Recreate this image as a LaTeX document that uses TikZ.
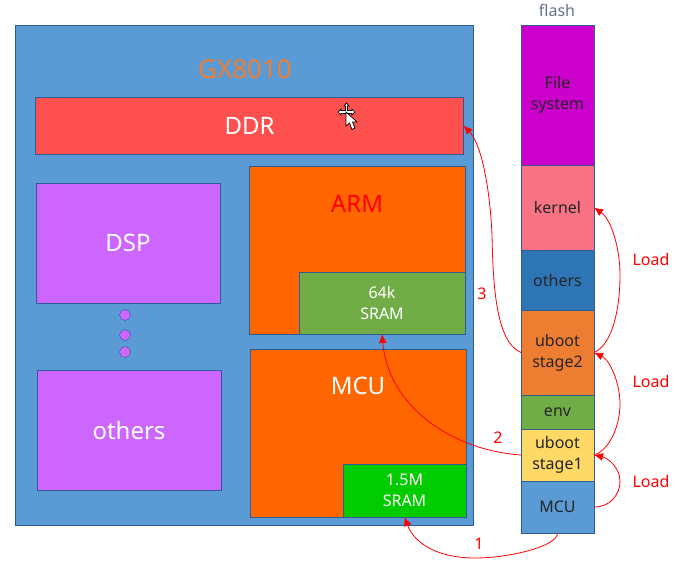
\documentclass[tikz,border=0pt]{standalone}
\usepackage{fontspec}
\setmainfont{Noto Sans}
\usetikzlibrary{positioning}
\usetikzlibrary{arrows.meta}
\definecolor{boxline}{HTML}{2F5C94}
\definecolor{chipblue}{HTML}{5B9BD5}
\definecolor{ddrred}{HTML}{FF5050}
\definecolor{dspviolet}{HTML}{CC66FF}
\definecolor{coreorange}{HTML}{FF6600}
\definecolor{sramgreen}{HTML}{70AD47}
\definecolor{mcugreen}{HTML}{00CC00}
\definecolor{fsmagenta}{HTML}{CC00CC}
\definecolor{kernelpink}{HTML}{F87484}
\definecolor{othersblue}{HTML}{2E75B6}
\definecolor{ubootorange}{HTML}{ED7D31}
\definecolor{ubootyellow}{HTML}{FFD966}
\tikzset{
  block/.style={draw=boxline, line width=1pt, inner sep=0pt, outer sep=0pt, align=center, text=white},
  flashpart/.style={block, minimum width=73pt, text=black!85, font=\fontsize{16}{21}\selectfont},
  flow/.style={draw=red, line width=.8pt, -{Latex[length=9pt,width=8pt]}},
  redlabel/.style={text=red, inner sep=0pt, font=\fontsize{16}{20}\selectfont},
  bigtext/.style={font=\fontsize{24}{28}\selectfont},
  smalltext/.style={font=\fontsize{16}{21}\selectfont},
  dotnode/.style={circle, draw=boxline, fill=dspviolet, minimum size=11pt, inner sep=0pt}
}

\begin{document}
\begin{tikzpicture}[x=1pt, y=-1pt]
  \useasboundingbox (0,0) rectangle (679,562);

  % chip
  \node [block, fill=chipblue, minimum width=458pt, minimum height=500pt] (chip) at (244, 275) {};
  \node [inner sep=0pt, text=ubootorange, font=\fontsize{26}{30}\selectfont] (chipname) at (245, 69) {GX8010};

  \node [block, fill=ddrred, minimum width=428pt, minimum height=57pt, bigtext] (ddr) at (249.5, 125.5) {DDR};
  \node [block, fill=dspviolet, minimum width=184pt, minimum height=120pt, bigtext] (dsp) at (128, 243) {DSP};
  \node [block, fill=dspviolet, minimum width=184pt, minimum height=120pt, bigtext] (others) at (129, 430) {others};

  \node [dotnode] (d1) at (125, 315) {};
  \node [dotnode] (d2) at (125, 335) {};
  \node [dotnode] (d3) at (125, 352) {};

  \node [block, fill=coreorange, minimum width=216pt, minimum height=168pt] (arm) at (357, 250) {};
  \node [inner sep=0pt, text=red, bigtext] (armname) at (357, 204) {ARM};
  \node [block, fill=sramgreen, minimum width=166pt, minimum height=62pt, smalltext] (sramarm) at (382, 303) {64k\\SRAM};

  \node [block, fill=coreorange, minimum width=216pt, minimum height=168pt] (mcu) at (358, 433) {};
  \node [inner sep=0pt, text=white, bigtext] (mcuname) at (358, 386) {MCU};
  \node [block, fill=mcugreen, minimum width=123pt, minimum height=53pt, smalltext] (srammcu) at (404.5, 490.5) {1.5M\\SRAM};

  % flash
  \node [inner sep=0pt, text=boxline!60!black!70, font=\fontsize{16}{20}\selectfont] (flashname) at (557, 10) {flash};
  \node [flashpart, fill=fsmagenta, minimum height=140pt] (fs) at (557.5, 95) {File\\system};
  \node [flashpart, fill=kernelpink, minimum height=85pt, below=0pt of fs] (kernel) {kernel};
  \node [flashpart, fill=othersblue, minimum height=60pt, below=0pt of kernel] (flashothers) {others};
  \node [flashpart, fill=ubootorange, minimum height=85pt, below=0pt of flashothers] (stage2) {uboot\\stage2};
  \node [flashpart, fill=sramgreen, minimum height=34pt, below=0pt of stage2] (env) {env};
  \node [flashpart, fill=ubootyellow, minimum height=52pt, below=0pt of env] (stage1) {uboot\\stage1};
  \node [flashpart, fill=chipblue, minimum height=52pt, below=0pt of stage1] (flashmcu) {MCU};

  % boot order
  \draw [flow] (flashmcu.south) .. controls (558, 546) and (510, 558) .. (475, 558)
    .. controls (440, 558) and (415, 545) .. (srammcu.south);
  \draw [flow] (stage1.west) .. controls (450, 450) and (388, 405) .. (sramarm.south);
  \draw [flow] (stage2.west) .. controls (495, 342) and (493, 280) .. (492, 235)
    .. controls (490, 190) and (482, 145) .. (ddr.east);
  \draw [flow] (flashmcu.east) .. controls (610, 507) and (620, 495) .. (620, 481)
    .. controls (620, 468) and (608, 458) .. (stage1.east);
  \draw [flow] (stage1.east) .. controls (610, 450) and (620, 425) .. (620, 404)
    .. controls (620, 383) and (610, 360) .. (stage2.east);
  \draw [flow] (stage2.east) .. controls (612, 345) and (620, 310) .. (620, 275)
    .. controls (620, 250) and (612, 220) .. (kernel.east);

  \node [redlabel] (step1) at (479, 544) {1};
  \node [redlabel] (step2) at (498, 438) {2};
  \node [redlabel] (step3) at (482, 294) {3};
  \node [redlabel] (load1) at (651, 481) {Load};
  \node [redlabel] (load2) at (651, 381) {Load};
  \node [redlabel] (load3) at (651, 259) {Load};

  % mouse pointer
  \draw [fill=white, line width=.7pt] (346.5, 103) -- (349, 106) -- (347.5, 106) -- (347.5, 110.5) -- (352, 110.5) -- (352, 109) -- (355, 112) -- (352, 115) -- (352, 113.5) -- (341, 113.5) -- (341, 115) -- (338, 112) -- (341, 109) -- (341, 110.5) -- (345.5, 110.5) -- (345.5, 106) -- (344, 106) -- cycle;
  \draw [fill=white, line width=.7pt] (346, 112) -- (346, 126) -- (349.5, 123) -- (352, 129.5) -- (355, 128) -- (352.5, 122) -- (357, 122) -- cycle;
\end{tikzpicture}
\end{document}
